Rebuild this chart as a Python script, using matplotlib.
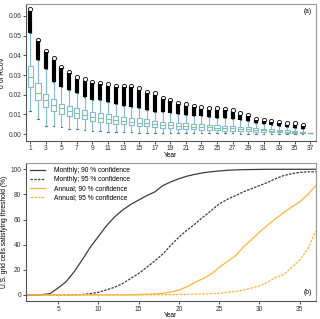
import numpy as np
import matplotlib.pyplot as plt

years = np.arange(1, 38)

# top panel: box statistics of sigma of RCoV per year
q1 = [0.0239, 0.0171, 0.0137, 0.0120, 0.0103, 0.0093, 0.0083, 0.0076, 0.0069, 0.0062, 0.0059, 0.0052, 0.0051,
      0.0046, 0.0042, 0.0039, 0.0034, 0.0031, 0.0029, 0.0027, 0.0025, 0.0024, 0.0022, 0.0020, 0.0019, 0.0018,
      0.0017, 0.0015, 0.0014, 0.0012, 0.0011, 0.0010, 0.0009, 0.0008, 0.0007, 0.0006, 0.0005]
med = [0.0289, 0.0208, 0.0174, 0.0147, 0.0132, 0.0118, 0.0107, 0.0098, 0.0089, 0.0084, 0.0078, 0.0073, 0.0068,
       0.0062, 0.0059, 0.0056, 0.0051, 0.0047, 0.0045, 0.0042, 0.0040, 0.0038, 0.0036, 0.0034, 0.0032, 0.0031,
       0.0029, 0.0026, 0.0024, 0.0021, 0.0019, 0.0017, 0.0015, 0.0013, 0.0011, 0.0009, 0.0006]
q3 = [0.0348, 0.0259, 0.0206, 0.0181, 0.0154, 0.0144, 0.0135, 0.0122, 0.0115, 0.0107, 0.0102, 0.0093, 0.0089,
      0.0084, 0.0081, 0.0076, 0.0069, 0.0064, 0.0061, 0.0058, 0.0055, 0.0052, 0.0050, 0.0047, 0.0045, 0.0043,
      0.0041, 0.0038, 0.0035, 0.0031, 0.0028, 0.0025, 0.0022, 0.0019, 0.0016, 0.0013, 0.0007]
wlo = [0.0118, 0.0078, 0.0044, 0.0039, 0.0034, 0.0028, 0.0027, 0.0022, 0.0018, 0.0017, 0.0013, 0.0012, 0.0011,
       0.0010, 0.0008, 0.0008, 0.0008, 0.0007, 0.0007, 0.0006, 0.0006, 0.0005, 0.0005, 0.0005, 0.0004, 0.0004,
       0.0004, 0.0003, 0.0003, 0.0003, 0.0002, 0.0002, 0.0002, 0.0002, 0.0001, 0.0001, 0.0005]
whi = [0.0516, 0.0376, 0.0330, 0.0267, 0.0239, 0.0225, 0.0208, 0.0188, 0.0174, 0.0171, 0.0162, 0.0154, 0.0145,
       0.0140, 0.0132, 0.0123, 0.0115, 0.0112, 0.0107, 0.0103, 0.0099, 0.0094, 0.0091, 0.0086, 0.0083, 0.0080,
       0.0076, 0.0072, 0.0066, 0.0059, 0.0053, 0.0048, 0.0043, 0.0037, 0.0032, 0.0026, 0.0007]
fmax = [0.0634, 0.0479, 0.0423, 0.0386, 0.0343, 0.0318, 0.0289, 0.0279, 0.0267, 0.0262, 0.0255, 0.0247, 0.0247,
        0.0247, 0.0234, 0.0216, 0.0208, 0.0186, 0.0174, 0.0160, 0.0152, 0.0144, 0.0137, 0.0132, 0.0132, 0.0130,
        0.0123, 0.0107, 0.0098, 0.0078, 0.0073, 0.0068, 0.0064, 0.0056, 0.0056, 0.0047, np.nan]

# bottom panel: % of grid cells satisfying threshold
m90 = [0, 0, 0.2, 1, 5.5, 10.5, 18.5, 28, 38, 46.5, 55, 62, 67.5, 72, 75.5, 79, 82, 87, 90, 92.5, 94.5, 96, 97.2,
       98, 98.7, 99.2, 99.5, 99.7, 99.8, 99.9, 100, 100, 100, 100, 100, 100, 100]
m95 = [0, 0, 0, 0, 0, 0, 0, 0.3, 1, 2, 4, 6, 9, 13, 17, 22, 27, 32.5, 39.5, 46, 51.5, 56.5, 62, 67, 72.5, 76,
       79, 82, 84.5, 87, 89.5, 92.5, 95, 96.5, 97.5, 98, 98]
a90 = [0, 0, 0, 0, 0, 0, 0, 0, 0, 0, 0, 0, 0, 0, 0.3, 0.5, 0.8, 1.2, 2.2, 3.8, 6.5, 9.9, 13, 16.6, 21.9, 26.5,
       31, 38, 44, 50, 55.5, 60.6, 65.5, 70, 74, 80, 87]
a95 = [0, 0, 0, 0, 0, 0, 0, 0, 0, 0, 0, 0, 0, 0, 0, 0, 0, 0.1, 0.2, 0.3, 0.4, 0.5, 0.7, 0.9, 1.2, 2, 2.8, 3.8,
       5.5, 7.2, 10, 13.9, 16, 22, 27.8, 36.6, 50.7]

plt.rcParams['font.family'] = ['Liberation Sans', 'DejaVu Sans']
plt.rcParams['font.size'] = 4.8

fig = plt.figure(figsize=(3.2, 3.19), dpi=100)
ax1 = fig.add_axes([0.081, 0.559, 0.906, 0.428])
ax2 = fig.add_axes([0.081, 0.056, 0.906, 0.433])

for ax in (ax1, ax2):
    for s in ax.spines.values():
        s.set_color('#999999')
        s.set_linewidth(0.8)
    ax.spines['left'].set_color('#555555')
    ax.spines['bottom'].set_color('#555555')
    ax.tick_params(length=2.2, width=0.6, pad=1.2, colors='#333333', labelsize=4.8)

blue = '#86b8dc'
stats = []
for i in range(len(years)):
    stats.append(dict(med=med[i], q1=q1[i], q3=q3[i], whislo=wlo[i], whishi=whi[i], fliers=[]))
ax1.bxp(stats, positions=years, widths=0.65, showfliers=False,
        boxprops=dict(color=blue, linewidth=0.8),
        whiskerprops=dict(color=blue, linewidth=0.8),
        capprops=dict(color='#557799', linewidth=0.8),
        medianprops=dict(color='#7ccc7c', linewidth=0.8),
        capwidths=0.2)
fmax_arr = np.array(fmax)
ok = ~np.isnan(fmax_arr)
ax1.vlines(years[ok], np.array(whi)[ok], fmax_arr[ok] - 0.0008, color='black', linewidth=3.0)
ax1.plot(years[ok], fmax_arr[ok], 'o', mfc='none', mec='black', ms=3.0, mew=0.6)

ax1.set_xlim(0.45, 37.7)
ax1.set_ylim(-0.0033, 0.066)
ax1.set_xticks(years[::2])
ax1.set_xticklabels([str(y) for y in years[::2]])
ax1.set_yticks([0, 0.01, 0.02, 0.03, 0.04, 0.05, 0.06])
ax1.set_yticklabels(['0.00', '0.01', '0.02', '0.03', '0.04', '0.05', '0.06'])
ax1.set_xlabel('Year', labelpad=0)
ax1.set_ylabel('σ of RCoV', labelpad=1.5)
ax1.text(0.985, 0.97, '(a)', transform=ax1.transAxes, ha='right', va='top')

dark = '#3c3c3c'
orange = '#ffb43c'
ax2.plot(years, m90, color=dark, linewidth=0.9, label='Monthly; 90 % confidence')
ax2.plot(years, m95, color=dark, linewidth=0.9, linestyle=(0, (2, 1)), label='Monthly; 95 % confidence')
ax2.plot(years, a90, color=orange, linewidth=0.9, label='Annual; 90 % confidence')
ax2.plot(years, a95, color=orange, linewidth=0.9, linestyle=(0, (2, 1)), label='Annual; 95 % confidence')
ax2.set_xlim(1, 37)
ax2.set_ylim(-5, 105)
ax2.set_xticks([5, 10, 15, 20, 25, 30, 35])
ax2.set_yticks([0, 20, 40, 60, 80, 100])
ax2.set_xlabel('Year', labelpad=-0.5)
ax2.set_ylabel('U.S. grid cells satisfying threshold (%)', labelpad=1.5)
ax2.text(0.985, 0.04, '(b)', transform=ax2.transAxes, ha='right', va='bottom')
ax2.legend(loc='upper left', frameon=False, fontsize=4.8, handlelength=2.2, borderaxespad=0.2,
           labelspacing=0.3, handletextpad=1.4)

plt.savefig('out.png', dpi=100)
